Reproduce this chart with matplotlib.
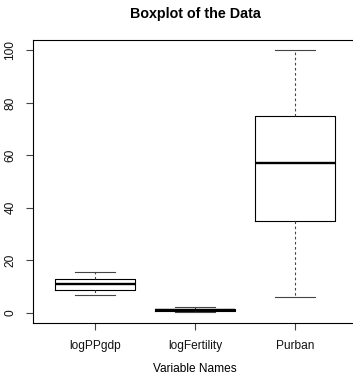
import matplotlib
matplotlib.use("Agg")
import matplotlib.pyplot as plt

categories = ["logPPgdp", "logFertility", "Purban"]
whisker_low = [6.5, 0.1, 6.0]
q1 = [8.6, 0.4, 35.0]
median = [10.8, 1.0, 57.0]
q3 = [12.8, 1.5, 75.0]
whisker_high = [15.4, 2.1, 100.0]
y_ticks = [0, 20, 40, 60, 80, 100]

W, H, DPI = 353, 376, 100
fig = plt.figure(figsize=(W / DPI, H / DPI), dpi=DPI)
plt.rcParams['font.family'] = ['Liberation Sans', 'DejaVu Sans']

left, right, top, bottom = 33, 357, 40, 323
ax = fig.add_axes([left / W, 1 - bottom / H, (right - left) / W, (bottom - top) / H])

stats = []
for i, name in enumerate(categories):
    stats.append(dict(label=name, whislo=whisker_low[i], q1=q1[i], med=median[i],
                      q3=q3[i], whishi=whisker_high[i], fliers=[]))

positions = list(range(1, len(categories) + 1))
ax.bxp(stats, positions=positions, widths=0.8, showfliers=False,
       boxprops=dict(color="black", linewidth=0.8),
       medianprops=dict(color="black", linewidth=1.7, solid_capstyle="butt"),
       whiskerprops=dict(color="#444444", linewidth=0.8, linestyle=(0, (2.3, 2.3))),
       capprops=dict(color="#444444", linewidth=0.8),
       capwidths=0.4)

ax.set_xlim(0.38, 3.62)
ax.set_ylim(-4, 104)
for s in ax.spines.values():
    s.set_linewidth(0.8)
    s.set_color("black")
ax.spines["right"].set_visible(False)

ax.set_xticks(positions)
ax.set_xticklabels(categories, fontsize=8.6)
ax.set_yticks(y_ticks)
ax.set_yticklabels([str(t) for t in y_ticks], fontsize=8.6, rotation=90, va="center")
ax.tick_params(axis="both", length=5, width=0.8, color="#444444", pad=7, labelcolor="#111111")
ax.tick_params(axis="y", pad=7)

fig.text(195 / W, 1 - 14 / H, "Boxplot of the Data", ha="center", va="center",
         fontsize=10.3, fontweight="bold")
fig.text(195 / W, 1 - 369 / H, "Variable Names", ha="center", va="center", fontsize=8.6)

fig.savefig("out.png", dpi=DPI)
